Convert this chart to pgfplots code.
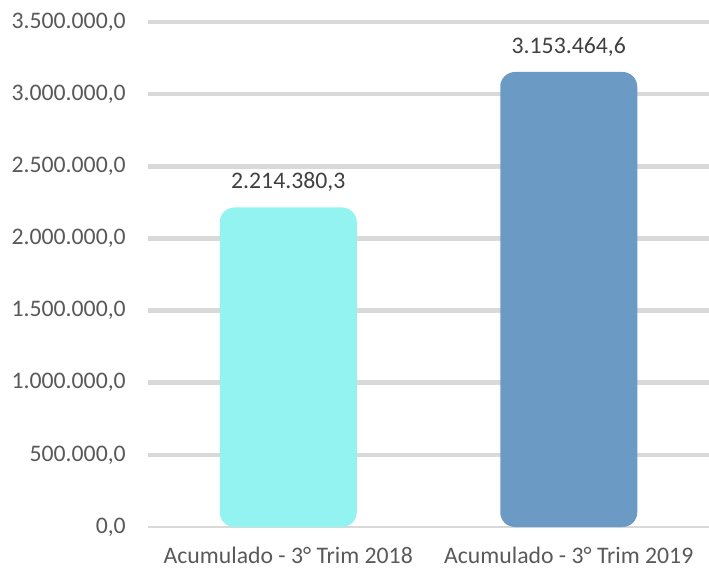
\documentclass[border=0pt]{standalone}
\usepackage{pgfplots}
\pgfplotsset{compat=1.18}
\usepackage{fontspec}
\setmainfont{Carlito}

\definecolor{barA}{HTML}{93F3F1}
\definecolor{barB}{HTML}{6B9AC4}
\definecolor{gridc}{HTML}{D9D9D9}
\definecolor{tickc}{HTML}{595959}
\definecolor{valc}{HTML}{404040}

\begin{document}
\fontsize{17.8pt}{21pt}\selectfont
\begin{tikzpicture}
\begin{axis}[
    scale only axis,
    width=420.75pt, height=378.75pt,
    xmin=-0.5, xmax=1.5,
    ymin=0, ymax=3500000,
    axis line style={draw=none},
    major tick length=0pt,
    xtick={0,1},
    xticklabels={Acumulado - 3° Trim 2018, Acumulado - 3° Trim 2019},
    xticklabel style={anchor=base, inner sep=0pt, yshift=-27.5pt, text=tickc},
    ytick={500000,1000000,...,3500000},
    extra y ticks={0},
    extra y tick style={major grid style={draw=gridc, line width=1.1pt}},
    scaled y ticks=false,
    /pgf/number format/.cd, fixed, fixed zerofill, precision=1,
        1000 sep={.}, dec sep={,}, assume math mode=true,
    /pgfplots/.cd,
    yticklabel style={anchor=east, inner sep=0pt, xshift=-16.5pt, text=tickc},
    ymajorgrids,
    major grid style={draw=gridc, line width=3.5pt},
    ybar, bar width=102.75pt, bar shift=0pt,
    nodes near coords,
    every node near coord/.append style={anchor=base, inner sep=0pt, yshift=14pt, text=valc},
]
\addplot[fill=barA, draw=none, rounded corners=11pt] coordinates {(0,2214380.3)};
\addplot[fill=barB, draw=none, rounded corners=11pt] coordinates {(1,3153464.6)};
\end{axis}
\pgfresetboundingbox
\path (current axis.south west) ++(-111pt,-30pt) rectangle ++(531.75pt,425.25pt);
\end{tikzpicture}
\end{document}
